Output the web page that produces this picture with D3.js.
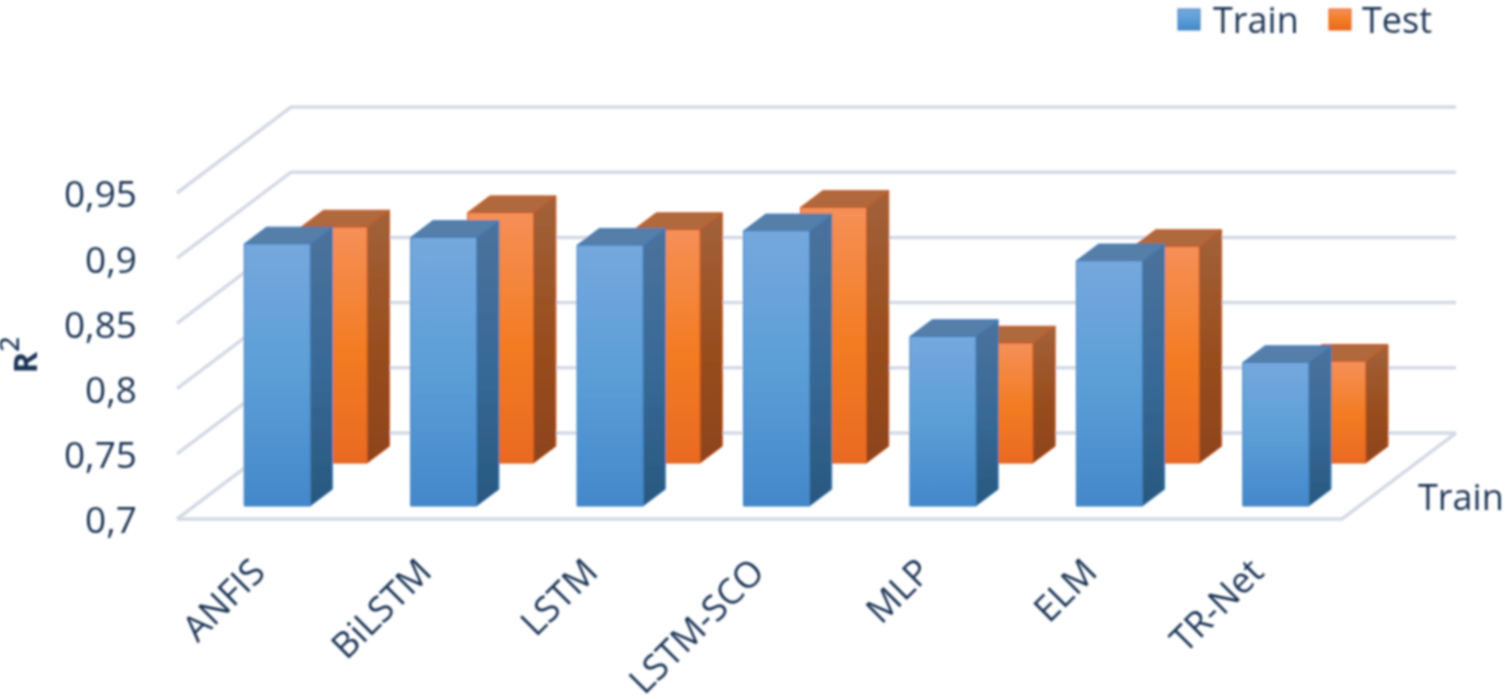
<!DOCTYPE html>
<html><head><meta charset="utf-8">
<script src="https://cdn.jsdelivr.net/npm/d3@7"></script>
<style>html,body{margin:0;padding:0;background:#fff;overflow:hidden}svg{display:block}text{font-family:"Open Sans",sans-serif}</style>
</head><body><svg id="c" width="1508" height="699"></svg>
<script>
const categories=["ANFIS","BiLSTM","LSTM","LSTM-SCO","MLP","ELM","TR-Net"];
const trainValues=[0.901,0.906,0.900,0.911,0.830,0.888,0.810];
const testValues=[0.881,0.892,0.879,0.896,0.792,0.866,0.778];
const tickValues=[0.7,0.75,0.8,0.85,0.9,0.95];
const tickLabels=["0,7","0,75","0,8","0,85","0,9","0,95"];
const seriesNames=["Train","Test"];
const txt="#1e3555";

const svg=d3.select("#c");
const defs=svg.append("defs");
function grad(id,stops){
  const g=defs.append("linearGradient").attr("id",id).attr("x1",0).attr("x2",0).attr("y1",0).attr("y2",1);
  stops.forEach(([o,c])=>g.append("stop").attr("offset",o).attr("stop-color",c));
}
grad("trF",[[0,"#75a8dd"],[0.5,"#5c9ed7"],[1,"#4388ca"]]);
grad("trS",[[0,"#4b729c"],[0.5,"#386a97"],[1,"#28587f"]]);
grad("teF",[[0,"#f59058"],[0.55,"#f37b20"],[1,"#e96a22"]]);
grad("teS",[[0,"#a2623a"],[0.5,"#9a4f20"],[1,"#8e431c"]]);
defs.append("filter").attr("id","soft").attr("x","-5%").attr("y","-5%").attr("width","110%").attr("height","110%")
  .append("feGaussianBlur").attr("stdDeviation",0.8);

// oblique 3D projection: scales for category, value and depth
const x=d3.scaleBand().domain(categories).range([177,1342]);
const y=d3.scaleLinear().domain([0.7,0.95]).range([519,193]);
const depthX=d3.scaleLinear().domain([0,1]).range([0,114]);
const depthY=d3.scaleLinear().domain([0,1]).range([0,-86]);
const floorX=x.range()[0], floorXEnd=x.range()[1];
const P=(px,v,d)=>[px+depthX(d),y(v)+depthY(d)];
const line=d3.line();

const root=svg.append("g").attr("filter","url(#soft)");
// walls
const grid=root.append("g").attr("fill","none").attr("stroke","#d3dae5").attr("stroke-width",3.5);
tickValues.forEach(v=>{
  grid.append("path").attr("d",line([P(floorX,v,0),P(floorX,v,1),P(floorXEnd,v,1)]));
});
grid.append("path").attr("d",line([P(floorX,0.7,0),P(floorXEnd,0.7,0),P(floorXEnd,0.7,1)]));

const barInset=50, barW=66, dFront={Train:0.151,Test:0.651}, dBar=0.195;
function bars(name,vals,F,S,topC,edge){
  const g=root.append("g");
  categories.forEach((c,i)=>{
    const x0=x(c)+barInset, x1=x0+barW, d0=dFront[name], d1=d0+dBar, v=vals[i];
    const stroke=s=>s.attr("stroke",edge).attr("stroke-width",1).attr("stroke-linejoin","round");
    g.append("path").attr("d",line([P(x1,0.7,d0),P(x1,0.7,d1),P(x1,v,d1),P(x1,v,d0)])+"Z").attr("fill",`url(#${S})`).call(stroke);
    g.append("path").attr("d",line([P(x0,v,d0),P(x1,v,d0),P(x1,v,d1),P(x0,v,d1)])+"Z").attr("fill",topC).call(stroke);
    g.append("path").attr("d",line([P(x0,0.7,d0),P(x1,0.7,d0),P(x1,v,d0),P(x0,v,d0)])+"Z").attr("fill",`url(#${F})`).call(stroke);
  });
}
bars("Test",testValues,"teF","teS","#b0673d","#c9561c");
bars("Train",trainValues,"trF","trS","#557ea9","#3f7fbd");

// value axis
const yAxis=d3.axisLeft(y).tickValues(tickValues).tickFormat((d,i)=>tickLabels[i]).tickSize(0).tickPadding(0);
const ya=root.append("g").attr("transform","translate(137,2)").call(yAxis);
ya.select(".domain").remove();
ya.selectAll("text").attr("fill",txt).style("font-size","37px").style("font-family",'"Open Sans",sans-serif');

// category axis
const xAxis=d3.axisBottom(x).tickSize(0).tickPadding(0);
const xa=root.append("g").call(xAxis);
xa.select(".domain").remove();
xa.selectAll(".tick").attr("transform",d=>`translate(${x(d)+x.bandwidth()/2-2},565)`);
xa.selectAll("text").attr("fill",txt).attr("y",0).attr("dy","0.35em").attr("text-anchor","end")
  .attr("transform","rotate(-45)").style("font-size","36px").style("font-family",'"Open Sans",sans-serif');

// axis title
const title=root.append("text").attr("transform","translate(37,355) rotate(-90)").attr("text-anchor","middle")
  .attr("fill",txt).attr("font-weight",700).style("font-size","33px");
title.append("tspan").text("R");
title.append("tspan").attr("font-weight",400).style("font-size","44px").text("²");

// depth label
root.append("text").attr("x",1418).attr("y",510).attr("fill",txt).style("font-size","36px").text(seriesNames[0]);

// legend
const lg=[{n:seriesNames[0],f:"url(#trF)",e:"#3f7fbd",sx:1178,tx:1213},{n:seriesNames[1],f:"url(#teF)",e:"#e4601c",sx:1329,tx:1362}];
lg.forEach(l=>{
  root.append("rect").attr("x",l.sx).attr("y",9).attr("width",22).attr("height",21).attr("fill",l.f).attr("stroke",l.e);
  root.append("text").attr("x",l.tx).attr("y",33).attr("fill",txt).style("font-size","36px").text(l.n);
});
</script></body></html>
